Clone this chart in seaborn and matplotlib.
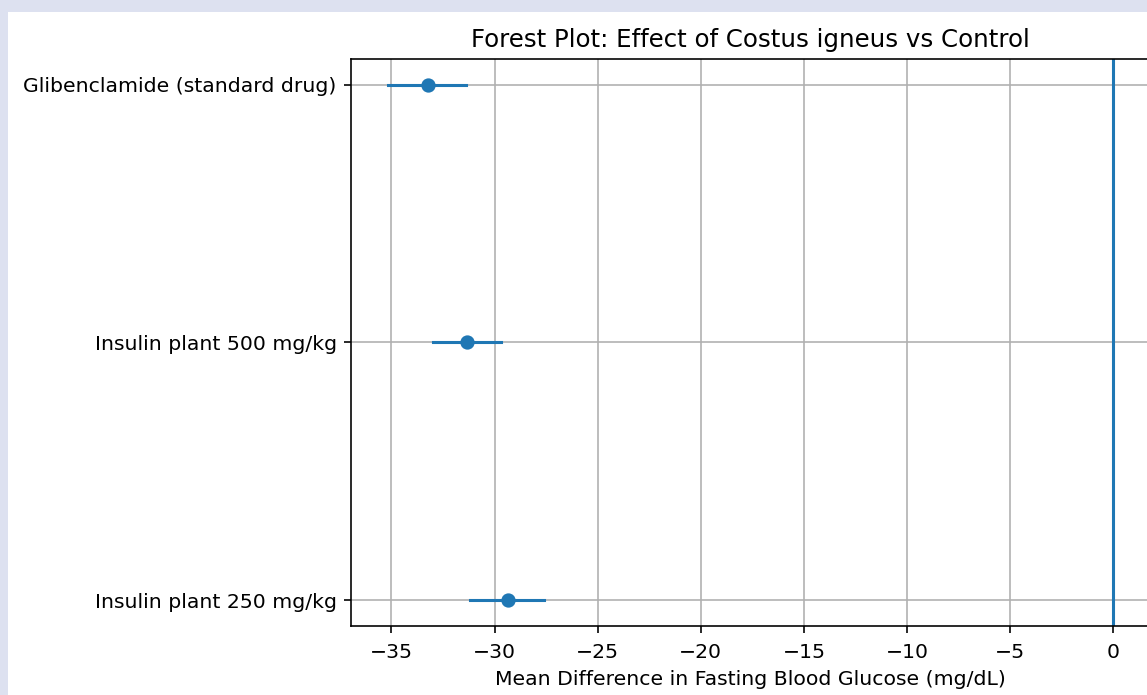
import matplotlib
matplotlib.use("Agg")
import matplotlib.pyplot as plt
from matplotlib.patches import Rectangle
import pandas as pd
import seaborn as sns

# data
groups = ["Glibenclamide (standard drug)", "Insulin plant 500 mg/kg", "Insulin plant 250 mg/kg"]
mean_diff = [-33.25, -31.35, -29.35]
ci_low = [-35.15, -33.0, -31.2]
ci_high = [-31.4, -29.7, -27.6]

# long table: low / mean / high per group -> median = mean, 100% interval = CI
rows = []
for g, lo, m, hi in zip(groups, ci_low, mean_diff, ci_high):
    for v in (lo, m, hi):
        rows.append({"group": g, "diff": v})
df = pd.DataFrame(rows)

dpi = 147
fig = plt.figure(figsize=(1147 / dpi, 695 / dpi), dpi=dpi, facecolor="#dde1f0")
fig.add_artist(Rectangle((8 / 1147, 0), 1, (695 - 12) / 695, transform=fig.transFigure,
                         facecolor="white", edgecolor="none", zorder=-1))
ax = fig.add_axes([351 / 1147, 69 / 695, 798.6 / 1147, 567 / 695])

sns.pointplot(data=df, x="diff", y="group", order=groups, estimator="median",
              errorbar=("pi", 100), color="C0", linestyle="none", markers="o",
              markersize=6, markeredgewidth=1, err_kws={"linewidth": 1.5}, ax=ax)

ax.axvline(0, color="C0", linewidth=1.5)
ax.set_xlim(-36.96, 1.76)
ax.set_ylim(2.1, -0.1)
ax.grid(True)
ax.set_axisbelow(True)
ax.tick_params(axis="x", pad=4.7)
ax.set_ylabel("")
ax.set_xlabel("Mean Difference in Fasting Blood Glucose (mg/dL)")
ax.set_title("Forest Plot: Effect of Costus igneus vs Control")

fig.savefig("out.png", dpi=dpi, facecolor=fig.get_facecolor())
